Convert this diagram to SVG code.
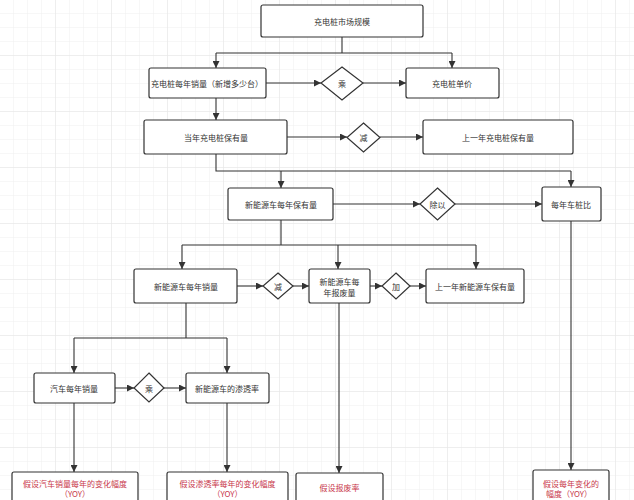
<svg xmlns="http://www.w3.org/2000/svg" width="634" height="500" viewBox="0 0 634 500">
<defs>
<pattern id="g" width="14" height="14" patternUnits="userSpaceOnUse"><path d="M14 0V14H0" fill="none" stroke="#efefef" stroke-width="1"/></pattern>
<pattern id="G" width="56" height="56" patternUnits="userSpaceOnUse"><rect width="56" height="56" fill="url(#g)"/><path d="M56 0V56H0" fill="none" stroke="#e6e6e6" stroke-width="1"/></pattern>
<marker id="a" viewBox="0 0 10 10" refX="10" refY="5" markerWidth="7" markerHeight="7" markerUnits="userSpaceOnUse" orient="auto"><path d="M0 0L10 5L0 10z" fill="#333"/></marker>
<style>
.b{fill:#fff;stroke:#333;stroke-width:1.2}
.t{font-family:"Noto Sans CJK SC","Liberation Sans",sans-serif;font-size:8px;fill:#333;text-anchor:middle;dominant-baseline:central}
.r{fill:#c8374a}
.c path{fill:none;stroke:#333;stroke-width:1.1}
.c .m{marker-end:url(#a)}
</style>
</defs>
<rect width="634" height="500" fill="#fff"/>
<rect width="634" height="500" fill="url(#G)"/>
<g class="c" id="connectors">
<path d="M342 37V53M216 53H452"/>
<path class="m" d="M216 53V68"/>
<path class="m" d="M452 53V68"/>
<path class="m" d="M266 83H321"/>
<path class="m" d="M363 83H406"/>
<path class="m" d="M216 98V120"/>
<path class="m" d="M287 137H347"/>
<path class="m" d="M380 137H423"/>
<path d="M216 154V171H571"/>
<path class="m" d="M281 171V188"/>
<path class="m" d="M571 171V187"/>
<path class="m" d="M333 204H420"/>
<path class="m" d="M455 204H542"/>
<path d="M281 220V245M182 245H476"/>
<path class="m" d="M182 245V269"/>
<path class="m" d="M338 245V269"/>
<path class="m" d="M476 245V269"/>
<path class="m" d="M237 286H263"/>
<path class="m" d="M293 286H309"/>
<path class="m" d="M370 286H382"/>
<path class="m" d="M410 286H426"/>
<path d="M186 303V338M74 338H227"/>
<path class="m" d="M74 338V373"/>
<path class="m" d="M227 338V373"/>
<path class="m" d="M115 388H134"/>
<path class="m" d="M164 388H186"/>
<path class="m" d="M74 403V472"/>
<path class="m" d="M227 403V472"/>
<path class="m" d="M339 303V473"/>
<path class="m" d="M571 221V470"/>
</g>
<g id="n1"><rect class="b" x="261" y="5" width="162" height="32" rx="2"/><text class="t" x="342" y="21">充电桩市场规模</text></g>
<g id="n2"><rect class="b" x="149" y="68" width="117" height="30" rx="2"/><text class="t" x="207" y="83">充电桩每年销量（新增多少台）</text></g>
<g id="d1"><path class="b" d="M342 67L363 83L342 100L321 83z"/><text class="t" x="342" y="83">乘</text></g>
<g id="n3"><rect class="b" x="406" y="68" width="93" height="30" rx="2"/><text class="t" x="452" y="83">充电桩单价</text></g>
<g id="n4"><rect class="b" x="144" y="120" width="143" height="34" rx="2"/><text class="t" x="216" y="137">当年充电桩保有量</text></g>
<g id="d2"><path class="b" d="M363.5 123L380 137.5L363.5 152L347 137.5z"/><text class="t" x="363.5" y="137.5">减</text></g>
<g id="n5"><rect class="b" x="423" y="120" width="150" height="34" rx="2"/><text class="t" x="498" y="137">上一年充电桩保有量</text></g>
<g id="n6"><rect class="b" x="228" y="188" width="105" height="32" rx="2"/><text class="t" x="281" y="204">新能源车每年保有量</text></g>
<g id="d3"><path class="b" d="M437.5 188L455 204L437.5 220L420 204z"/><text class="t" x="437.5" y="204">除以</text></g>
<g id="n7"><rect class="b" x="542" y="187" width="59" height="34" rx="2"/><text class="t" x="571" y="204">每年车桩比</text></g>
<g id="n8"><rect class="b" x="134" y="269" width="103" height="34" rx="2"/><text class="t" x="186" y="286">新能源车每年销量</text></g>
<g id="d4"><path class="b" d="M278 273L293 286L278 299L263 286z"/><text class="t" x="278" y="286">减</text></g>
<g id="n9"><rect class="b" x="309" y="269" width="61" height="34" rx="2"/><text class="t" x="339.5" y="281">新能源车每</text><text class="t" x="339.5" y="292">年报废量</text></g>
<g id="d5"><path class="b" d="M396 273L410 286L396 299L382 286z"/><text class="t" x="396" y="286">加</text></g>
<g id="n10"><rect class="b" x="426" y="269" width="98" height="34" rx="2"/><text class="t" x="475" y="286">上一年新能源车保有量</text></g>
<g id="n11"><rect class="b" x="34" y="373" width="81" height="30" rx="2"/><text class="t" x="74" y="388">汽车每年销量</text></g>
<g id="d6"><path class="b" d="M149 373L164 388L149 402L134 388z"/><text class="t" x="149" y="388">乘</text></g>
<g id="n12"><rect class="b" x="186" y="373" width="83" height="30" rx="2"/><text class="t" x="227" y="388">新能源车的渗透率</text></g>
<g id="n13"><rect class="b" x="12" y="472" width="126" height="40" rx="2"/><text class="t r" x="75" y="483">假设汽车销量每年的变化幅度</text><text class="t r" x="75" y="493">（YOY）</text></g>
<g id="n14"><rect class="b" x="167" y="472" width="121" height="40" rx="2"/><text class="t r" x="227.5" y="483">假设渗透率每年的变化幅度</text><text class="t r" x="227.5" y="493">（YOY）</text></g>
<g id="n15"><rect class="b" x="296" y="473" width="87" height="40" rx="2"/><text class="t r" x="339.5" y="487">假设报废率</text></g>
<g id="n16"><rect class="b" x="533" y="470" width="76" height="40" rx="2"/><text class="t r" x="571" y="483">假设每年变化的</text><text class="t r" x="569" y="493">幅度（YOY）</text></g>
</svg>
